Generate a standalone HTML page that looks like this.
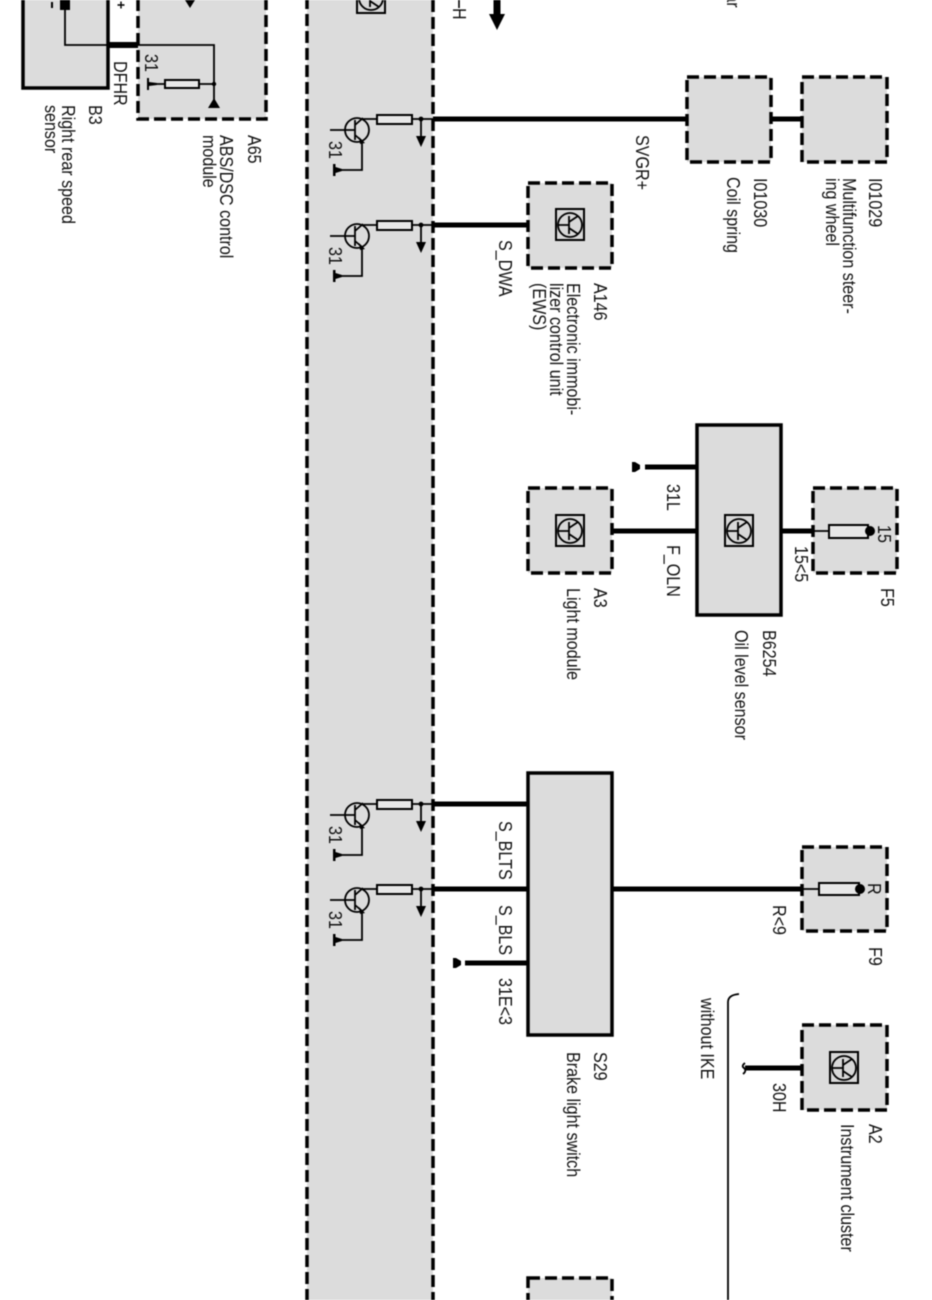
<!DOCTYPE html>
<html><head><meta charset="utf-8">
<style>
html,body{margin:0;padding:0;background:#fff;width:932px;height:1300px;overflow:hidden}
svg{display:block;filter:blur(0.45px)}
text{font-family:"Liberation Sans",sans-serif;font-size:16.1px;fill:#111}
.f{fill:#dcdcdc;stroke:#000;stroke-width:3.5}
.d{stroke-dasharray:12 5}
.w{stroke:#000;stroke-width:5;fill:none}
.t{stroke:#000;stroke-width:1.8;fill:none}
</style></head><body>
<svg width="932" height="1300" viewBox="0 0 932 1300" xmlns="http://www.w3.org/2000/svg">
<defs>
<g id="tr">
 <path class="t" d="M-70 0H0M-103 11H-78M-78 1V21M-78 6L-70 -1M-78 16L-71 22M-71 22V51H-98"/>
 <path d="M-74 18L-68 24L-73 25Z"/>
 <circle cx="-76" cy="11" r="12" fill="none" stroke="#000" stroke-width="1.8"/>
 <rect x="-56" y="-4" width="35" height="9" fill="#e8e8e8" stroke="#000" stroke-width="2"/>
 <circle cx="-12" cy="0" r="2.4"/>
 <path class="t" d="M-12 0V18"/>
 <path d="M-17 17H-7L-12 28Z"/>
 <path d="M-100 45H-97.500V48L-91 50V52L-97.500 54V57H-100Z"/>
 <text transform="translate(-104,22) rotate(90) scale(1,1.12)">31</text>
</g>
<g id="ic">
 <rect x="-14" y="-16" width="28" height="31" fill="#d8d8d8" stroke="#000" stroke-width="2"/>
 <circle cx="0" cy="0" r="12" fill="none" stroke="#000" stroke-width="1.8"/>
 <path class="t" d="M-12 0H-1M-1 -9V9M-1 -3L8 -9M-1 3L8 9"/>
</g>
</defs>

<!-- central module band -->
<rect x="307" y="-10" width="126" height="1320" class="f d"/>

<!-- B3 -->
<rect x="23" y="-10" width="85" height="98" class="f"/>
<rect x="60" y="0" width="10" height="10" fill="#000"/>
<path d="M52 2V8" stroke="#000" stroke-width="2"/>
<path d="M117.500 5H124.500M121 1.500V8.500" stroke="#000" stroke-width="1.400"/>
<!-- A65 -->
<rect x="138" y="-10" width="128" height="129" class="f d"/>
<path class="t" d="M65 5V45H214V104"/>
<path d="M108 45H138" stroke="#000" stroke-width="6"/>
<path d="M185 0H195L190 8Z"/>
<path class="t" d="M152 84H214"/>
<rect x="165" y="80" width="34" height="8" fill="#e8e8e8" stroke="#000" stroke-width="2"/>
<path d="M147 78H149V82L157 83V85L149 86V90H147Z"/>
<path d="M208 108H220L214 98Z"/>
<circle cx="214" cy="84" r="2.2"/>
<text transform="translate(145,54) rotate(90) scale(1,1.12)">31</text>

<!-- top module fragment -->
<use href="#ic" transform="translate(371,-2)"/>
<path d="M459 0V8" stroke="#000" stroke-width="1.600"/>
<text transform="translate(453,8) rotate(90) scale(1,1.12)">H</text>
<path d="M497 0V18" stroke="#000" stroke-width="7"/>
<path d="M489 14H505L497 30Z"/>
<text transform="translate(727,-21) rotate(90) scale(1,1.12)">rear</text>

<!-- wires -->
<path class="w" d="M433 119H687M433 225H528"/>
<path class="w" d="M771 119H802"/>
<path class="w" d="M612 531H697M781 531H813M645 467H697"/>
<path class="w" d="M433 804H528M433 889H528M465 963H528M612 889H802M745 1068H802"/>

<!-- transistors -->
<use href="#tr" transform="translate(433,119)"/>
<use href="#tr" transform="translate(433,225)"/>
<use href="#tr" transform="translate(433,804)"/>
<use href="#tr" transform="translate(433,889)"/>

<!-- boxes -->
<rect x="687" y="77" width="84" height="85" class="f d"/>
<rect x="802" y="77" width="85" height="85" class="f d"/>
<rect x="528" y="183" width="84" height="85" class="f d"/>
<use href="#ic" transform="translate(570,225)"/>
<rect x="697" y="425" width="84" height="190" class="f"/>
<use href="#ic" transform="translate(739,531)"/>
<rect x="528" y="488" width="84" height="85" class="f d"/>
<use href="#ic" transform="translate(570,531)"/>
<rect x="813" y="488" width="84" height="85" class="f d"/>
<rect x="528" y="773" width="84" height="262" class="f"/>
<rect x="802" y="847" width="85" height="84" class="f d"/>
<rect x="802" y="1025" width="85" height="85" class="f d"/>
<use href="#ic" transform="translate(844,1068)"/>
<rect x="528" y="1278" width="84" height="40" class="f d"/>

<!-- grounds -->
<path d="M632 462H635L640 465V469L635 472H632Z"/>
<path d="M453 958H456L461 961V965L456 968H453Z"/>

<!-- fuses -->
<path class="t" d="M813 531H829M802 889H819"/>
<rect x="829" y="525" width="39" height="13" fill="#e8e8e8" stroke="#000" stroke-width="2"/>
<circle cx="870" cy="531" r="5"/>
<rect x="819" y="883" width="40" height="12" fill="#e8e8e8" stroke="#000" stroke-width="2"/>
<circle cx="860" cy="889" r="5"/>
<text transform="translate(878,525) rotate(90) scale(1,1.12)">15</text>
<text transform="translate(868,883) rotate(90) scale(1,1.12)">R</text>

<!-- bracket & stub -->
<path class="t" d="M728 1300V1002Q728 995 739 994"/>
<path class="t" d="M745 1063Q741 1066 744 1068Q747 1071 743 1074"/>

<!-- labels -->
<text transform="translate(114,61) rotate(90) scale(1,1.12)">DFHR</text>
<text transform="translate(89,105) rotate(90) scale(1,1.12)">B3</text>
<text transform="translate(62,105) rotate(90) scale(1,1.12)">Right rear speed</text>
<text transform="translate(45,105) rotate(90) scale(1,1.12)">sensor</text>
<text transform="translate(248,135) rotate(90) scale(1,1.12)">A65</text>
<text transform="translate(220,135) rotate(90) scale(1,1.12)">ABS/DSC control</text>
<text transform="translate(203,135) rotate(90) scale(1,1.12)">module</text>
<text transform="translate(636,135) rotate(90) scale(1,1.12)">SVGR+</text>
<text transform="translate(754,178) rotate(90) scale(1,1.12)">I01030</text>
<text transform="translate(727,177) rotate(90) scale(1,1.12)">Coil spring</text>
<text transform="translate(869,178) rotate(90) scale(1,1.12)">I01029</text>
<text transform="translate(843,178) rotate(90) scale(1,1.12)">Multifunction steer-</text>
<text transform="translate(826,178) rotate(90) scale(1,1.12)">ing wheel</text>
<text transform="translate(499,240) rotate(90) scale(1,1.12)">S_DWA</text>
<text transform="translate(594,283) rotate(90) scale(1,1.12)">A146</text>
<text transform="translate(567,283) rotate(90) scale(1,1.12)">Electronic immobi-</text>
<text transform="translate(550,283) rotate(90) scale(1,1.12)">lizer control unit</text>
<text transform="translate(533,283) rotate(90) scale(1,1.12)">(EWS)</text>
<text transform="translate(667,484) rotate(90) scale(1,1.12)">31L</text>
<text transform="translate(667,545) rotate(90) scale(1,1.12)">F_OLN</text>
<text transform="translate(795,546) rotate(90) scale(1,1.12)">15&lt;5</text>
<text transform="translate(881,588) rotate(90) scale(1,1.12)">F5</text>
<text transform="translate(763,630) rotate(90) scale(1,1.12)">B6254</text>
<text transform="translate(735,630) rotate(90) scale(1,1.12)">Oil level sensor</text>
<text transform="translate(594,588) rotate(90) scale(1,1.12)">A3</text>
<text transform="translate(567,588) rotate(90) scale(1,1.12)">Light module</text>
<text transform="translate(499,821) rotate(90) scale(1,1.12)">S_BLTS</text>
<text transform="translate(499,905) rotate(90) scale(1,1.12)">S_BLS</text>
<text transform="translate(499,978) rotate(90) scale(1,1.12)">31E&lt;3</text>
<text transform="translate(594,1052) rotate(90) scale(1,1.12)">S29</text>
<text transform="translate(567,1052) rotate(90) scale(1,1.12)">Brake light switch</text>
<text transform="translate(773,905) rotate(90) scale(1,1.12)">R&lt;9</text>
<text transform="translate(869,947) rotate(90) scale(1,1.12)">F9</text>
<text transform="translate(701,998) rotate(90) scale(1,1.12)">without IKE</text>
<text transform="translate(773,1083) rotate(90) scale(1,1.12)">30H</text>
<text transform="translate(869,1124) rotate(90) scale(1,1.12)">A2</text>
<text transform="translate(841,1124) rotate(90) scale(1,1.12)">Instrument cluster</text>
</svg>
</body></html>
